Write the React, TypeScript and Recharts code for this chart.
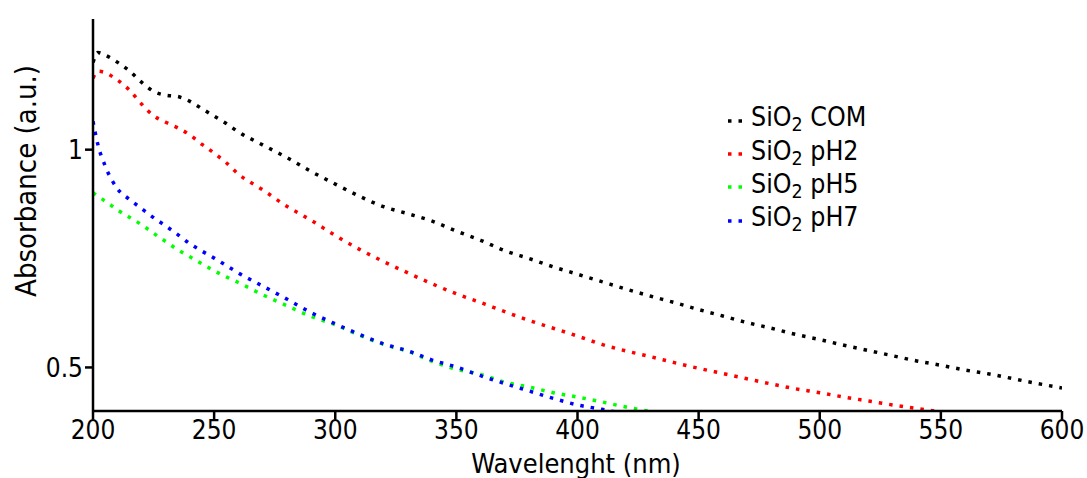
import React from 'react';
import { LineChart, Line, XAxis, YAxis } from 'recharts';

// wavelength grid (nm)
const wavelengths = [
  200, 202, 205, 210, 215, 220, 225, 230, 235, 240, 245, 250, 255, 260,
  270, 280, 290, 300, 310, 320, 330, 340, 350, 360, 370, 380, 390, 400,
  410, 420, 430, 440, 450, 460, 470, 480, 490, 500, 510, 520, 530, 540,
  550, 560, 570, 580, 590, 600,
];

// absorbance readings per sample
const comValues = [
  1.2, 1.223, 1.217, 1.201, 1.181, 1.155, 1.134, 1.125, 1.122, 1.111, 1.094, 1.077, 1.06, 1.041,
  1.011, 0.982, 0.95, 0.921, 0.893, 0.869, 0.853, 0.836, 0.813, 0.792, 0.768, 0.75, 0.731, 0.714,
  0.697, 0.68, 0.664, 0.649, 0.633, 0.618, 0.603, 0.59, 0.576, 0.564, 0.551, 0.539, 0.527, 0.515,
  0.505, 0.494, 0.485, 0.474, 0.463, 0.453,
];
const ph2Values = [
  1.164, 1.18, 1.177, 1.16, 1.137, 1.105, 1.078, 1.063, 1.05, 1.034, 1.012, 0.992, 0.97, 0.944,
  0.908, 0.87, 0.838, 0.803, 0.771, 0.743, 0.717, 0.692, 0.669, 0.649, 0.628, 0.608, 0.59, 0.572,
  0.553, 0.538, 0.525, 0.511, 0.498, 0.486, 0.474, 0.462, 0.451, 0.442, 0.432, 0.423, 0.414, 0.406,
  0.398, 0.39, null, null, null, null,
];
const ph5Values = [
  0.901, 0.893, 0.882, 0.862, 0.845, 0.828, 0.808, 0.789, 0.77, 0.754, 0.738, 0.722, 0.708, 0.695,
  0.667, 0.642, 0.617, 0.598, 0.574, 0.553, 0.537, 0.514, 0.496, 0.484, 0.466, 0.455, 0.442, 0.432,
  0.421, 0.409, 0.399, 0.39, null, null, null, null, null, null, null, null, null, null,
  null, null, null, null, null, null,
];
const ph7Values = [
  1.065, 1.012, 0.963, 0.911, 0.886, 0.865, 0.844, 0.825, 0.805, 0.784, 0.767, 0.751, 0.734, 0.717,
  0.687, 0.657, 0.626, 0.6, 0.576, 0.554, 0.538, 0.517, 0.501, 0.481, 0.463, 0.446, 0.429, 0.414,
  0.404, 0.393, null, null, null, null, null, null, null, null, null, null, null, null,
  null, null, null, null, null, null,
];

const xTicks = [200, 250, 300, 350, 400, 450, 500, 550, 600];
const yTicks = [0.5, 1];

const series = [
  { key: 'com', label: 'COM', color: '#000000' },
  { key: 'ph2', label: 'pH2', color: '#ff0000' },
  { key: 'ph5', label: 'pH5', color: '#00ff00' },
  { key: 'ph7', label: 'pH7', color: '#0000ff' },
];

const data = wavelengths.map((wl, i) => ({
  wl,
  com: comValues[i],
  ph2: ph2Values[i],
  ph5: ph5Values[i],
  ph7: ph7Values[i],
}));

const FONT = '"DejaVu Sans Condensed", "DejaVu Sans", sans-serif';

// legend drawn as an overlay so it does not eat into the plot area
const LegendBox = () => (
  <div
    style={{
      position: 'absolute',
      left: 727,
      top: 104,
      fontFamily: FONT,
      fontSize: 26.5,
      color: '#000',
    }}
  >
    {series.map((s) => (
      <div key={s.key} style={{ display: 'flex', alignItems: 'center', height: 33.4 }}>
        <svg width={23} height={6} style={{ marginRight: 1 }}>
          <line x1={1} y1={3} x2={20} y2={3} stroke={s.color} strokeWidth={3.5} strokeDasharray="3.5 7" />
        </svg>
        <span style={{ whiteSpace: 'nowrap', lineHeight: '33px' }}>
          SiO<sub style={{ fontSize: 19.5, verticalAlign: -5 }}>2</sub> {s.label}
        </span>
      </div>
    ))}
  </div>
);

export default function App() {
  return (
    <div style={{ position: 'absolute', left: 0, top: 0, width: 1087, height: 478, background: '#fff' }}>
      <LineChart
        width={1087}
        height={478}
        data={data}
        margin={{ top: 19, right: 25, bottom: 37, left: 0 }}
      >
        <XAxis
          type="number"
          dataKey="wl"
          domain={[200, 600]}
          ticks={xTicks}
          allowDataOverflow
          height={30}
          stroke="#000"
          strokeWidth={2.5}
          tickSize={8}
          tick={{ fill: '#000', fontSize: 26, fontFamily: FONT }}
          label={() => (
            <text x={576} y={473} textAnchor="middle" fill="#000" fontSize={27} fontFamily={FONT}>
              Wavelenght (nm)
            </text>
          )}
        />
        <YAxis
          type="number"
          domain={[0.4, 1.3]}
          ticks={yTicks}
          allowDataOverflow
          width={93}
          stroke="#000"
          strokeWidth={2.5}
          tickSize={8}
          tickFormatter={(v: number) => String(v)}
          tick={{ fill: '#000', fontSize: 26, fontFamily: FONT }}
          label={() => (
            <text
              x={36}
              y={181}
              transform="rotate(-90 36 181)"
              textAnchor="middle"
              fill="#000"
              fontSize={29}
              fontFamily={FONT}
            >
              Absorbance (a.u.)
            </text>
          )}
        />
        {series.map((s) => (
          <Line
            key={s.key}
            dataKey={s.key}
            type="monotone"
            stroke={s.color}
            strokeWidth={3.5}
            strokeDasharray="3.5 7"
            dot={false}
            activeDot={false}
            isAnimationActive={false}
          />
        ))}
      </LineChart>
      <LegendBox />
    </div>
  );
}
